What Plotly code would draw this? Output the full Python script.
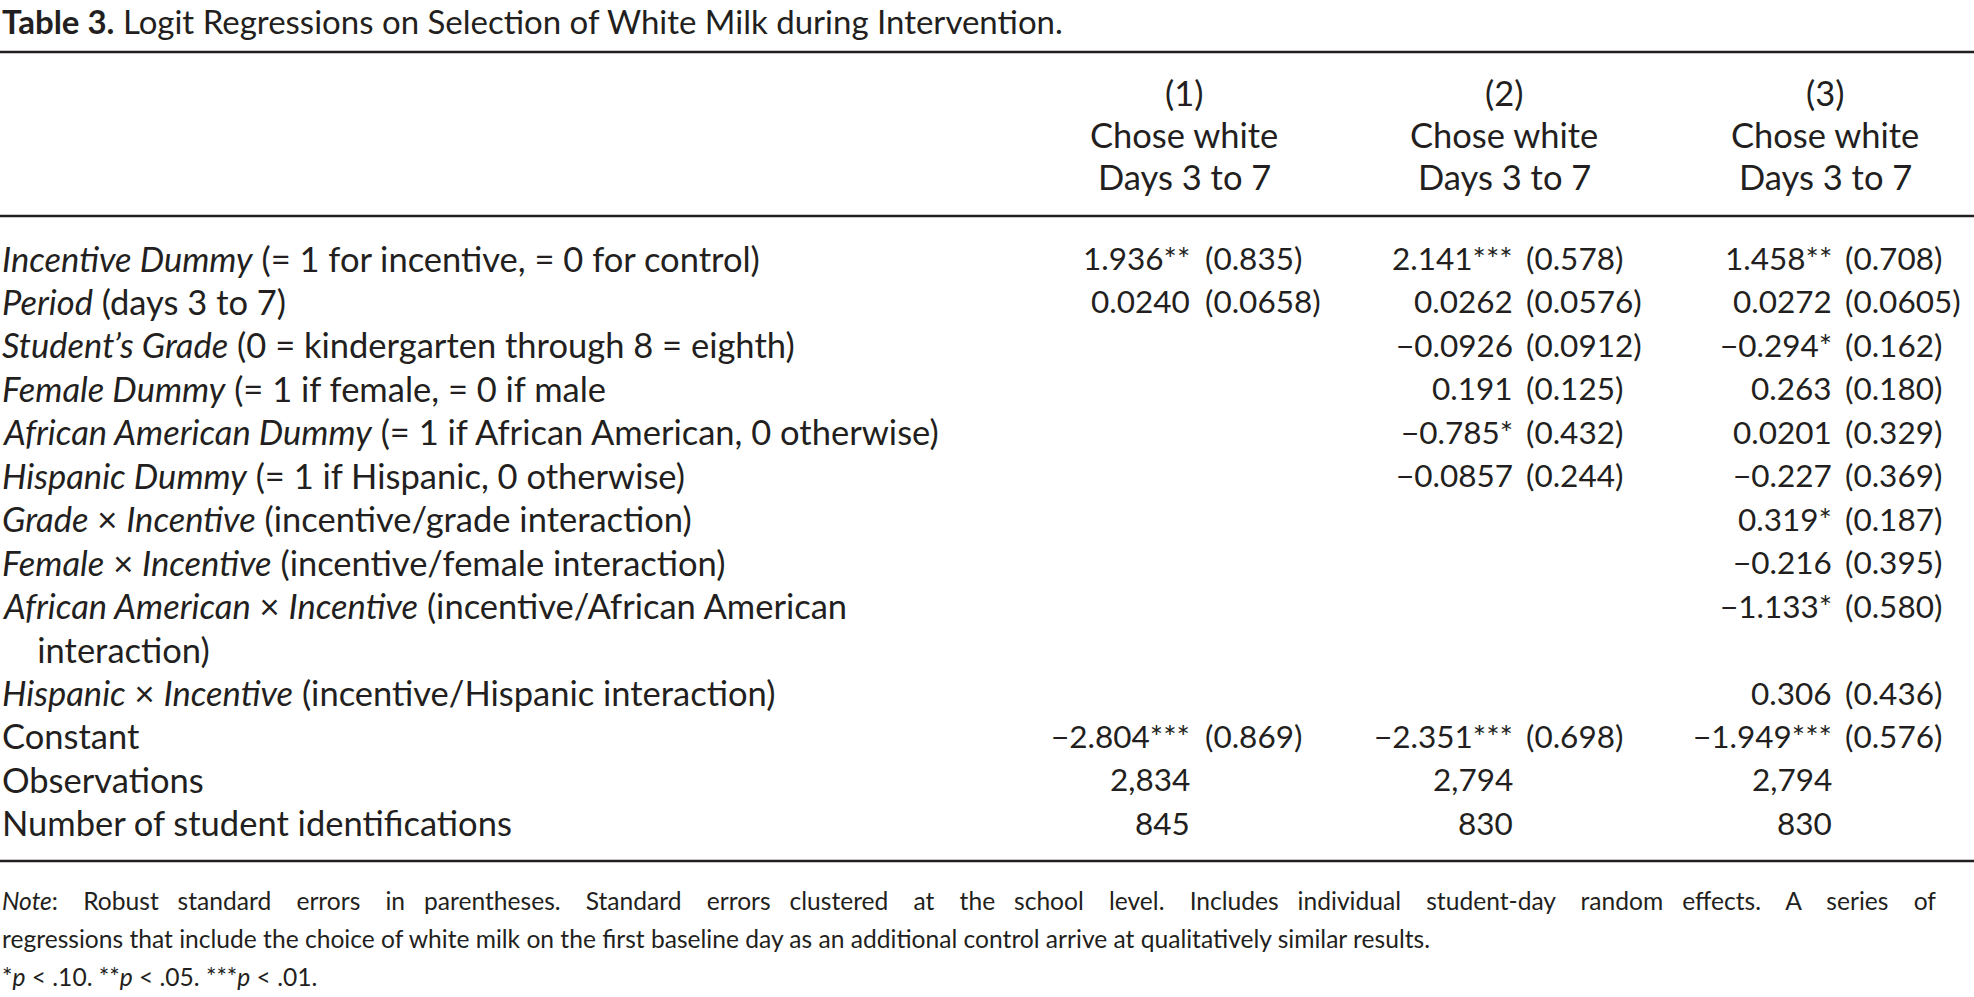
import plotly.graph_objects as go

# table content
title_bold = "Table 3."
title_rest = " Logit Regressions on Selection of White Milk during Intervention."

col_numbers = ["(1)", "(2)", "(3)"]
col_line1 = ["Chose white", "Chose white", "Chose white"]
col_line2 = ["Days 3 to 7", "Days 3 to 7", "Days 3 to 7"]

row_labels = [
    "<i>Incentive Dummy</i> (= 1 for incentive, = 0 for control)",
    "<i>Period</i> (days 3 to 7)",
    "<i>Student\u2019s Grade</i> (0 = kindergarten through 8 = eighth)",
    "<i>Female Dummy</i> (= 1 if female, = 0 if male",
    "<i>African American Dummy</i> (= 1 if African American, 0 otherwise)",
    "<i>Hispanic Dummy</i> (= 1 if Hispanic, 0 otherwise)",
    "<i>Grade</i> \u00d7 <i>Incentive</i> (incentive/grade interaction)",
    "<i>Female</i> \u00d7 <i>Incentive</i> (incentive/female interaction)",
    "<i>African American</i> \u00d7 <i>Incentive</i> (incentive/African American",
    "\u00a0\u00a0\u00a0\u00a0interaction)",
    "<i>Hispanic</i> \u00d7 <i>Incentive</i> (incentive/Hispanic interaction)",
    "Constant",
    "Observations",
    "Number of student identifications",
]

# coefficients (with stars) and standard errors, one list per model; None = blank
coef_1 = ["1.936**", "0.0240", None, None, None, None, None, None, None, None, None, "\u22122.804***"]
se_1 = ["(0.835)", "(0.0658)", None, None, None, None, None, None, None, None, None, "(0.869)"]
coef_2 = ["2.141***", "0.0262", "\u22120.0926", "0.191", "\u22120.785*", "\u22120.0857", None, None, None, None, None, "\u22122.351***"]
se_2 = ["(0.578)", "(0.0576)", "(0.0912)", "(0.125)", "(0.432)", "(0.244)", None, None, None, None, None, "(0.698)"]
coef_3 = ["1.458**", "0.0272", "\u22120.294*", "0.263", "0.0201", "\u22120.227", "0.319*", "\u22120.216", "\u22121.133*", None, "0.306", "\u22121.949***"]
se_3 = ["(0.708)", "(0.0605)", "(0.162)", "(0.180)", "(0.329)", "(0.369)", "(0.187)", "(0.395)", "(0.580)", None, "(0.436)", "(0.576)"]

observations = ["2,834", "2,794", "2,794"]
student_ids = ["845", "830", "830"]

note_first = ("<i>Note</i>: Robust standard errors in parentheses. Standard errors clustered at the school level. "
              "Includes individual student-day random effects. A series of")
note_rest = [
    "regressions that include the choice of white milk on the first baseline day as an additional control arrive at qualitatively similar results.",
    "*<i>p</i> < .10. **<i>p</i> < .05. ***<i>p</i> < .01.",
]

W, H = 1974, 997
INK = "#231f20"
FONT = "Lato"
LABEL = 34.5
NUM = 31.5
TITLE = 33
NOTE = 24.6

coef_x = [1192, 1515, 1834]     # right edge of coefficient
se_x = [1203, 1524, 1843]       # left edge of standard error
head_x = [1184, 1504, 1825]
row0_y, row_step = 258, 43.45

fig = go.Figure()
ann = []

def txt(x, y, s, anchor="left", size=LABEL):
    ann.append(dict(x=x, y=y, xref="x", yref="y", text=s, showarrow=False,
                    xanchor=anchor, yanchor="middle",
                    font=dict(family=FONT, size=size, color=INK)))

txt(0, 21, "<b>" + title_bold + "</b>" + title_rest, size=TITLE)

for j in range(3):
    txt(head_x[j], 92, col_numbers[j], "center")
    txt(head_x[j], 134, col_line1[j], "center")
    txt(head_x[j], 176, col_line2[j], "center")

for i, lab in enumerate(row_labels):
    txt(0, row0_y + i * row_step, lab)

for j, (cs, ss) in enumerate([(coef_1, se_1), (coef_2, se_2), (coef_3, se_3)]):
    for i, (c, s) in enumerate(zip(cs, ss)):
        y = row0_y + i * row_step
        if c is not None:
            txt(coef_x[j], y, c, "right", NUM)
        if s is not None:
            txt(se_x[j], y, s, "left", NUM)
    txt(coef_x[j], row0_y + 12 * row_step, observations[j], "right", NUM)
    txt(coef_x[j], row0_y + 13 * row_step, student_ids[j], "right", NUM)

# first note line is justified across the full width in the original:
# widen the word gaps with non-breaking spaces
words = note_first.split(" ")
justified = words[0]
for g, w in enumerate(words[1:], start=1):
    pad = 2 if g in (2, 5, 8, 11, 14, 17) else 3
    justified += " " + "\u00a0" * pad + w
txt(0, 900, justified, size=NOTE)
for k, line in enumerate(note_rest):
    txt(0, 938 + k * 38, line, size=NOTE)

# horizontal rules
for yy in [52, 216, 861]:
    fig.add_shape(type="line", xref="paper", yref="y", x0=0, x1=1, y0=yy, y1=yy,
                  line=dict(color=INK, width=2.5))

fig.update_layout(
    width=W, height=H,
    margin=dict(l=0, r=0, t=0, b=0),
    paper_bgcolor="white", plot_bgcolor="white",
    xaxis=dict(range=[0, W], visible=False, fixedrange=True),
    yaxis=dict(range=[H, 0], visible=False, fixedrange=True),
    showlegend=False,
    annotations=ann,
)

fig.write_html("out.html", config={"displayModeBar": False},
               post_script="document.body.style.margin='0';document.body.style.overflow='hidden';")
